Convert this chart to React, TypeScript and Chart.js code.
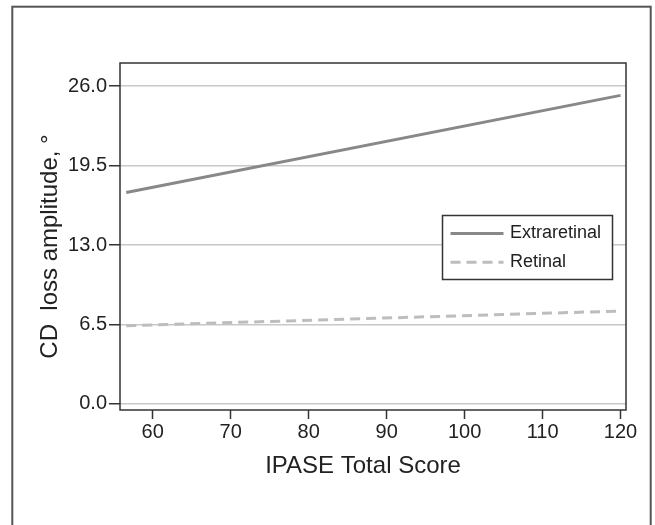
import React, { useEffect, useRef } from "react";
import { Chart, registerables } from "chart.js";

Chart.register(...registerables);

// ---- data ----
const xValues = [56.6, 120];
const extraretinal = [17.3, 25.25];
const retinal = [6.4, 7.6];
const yTickValues = [0, 6.5, 13, 19.5, 26];
const xTickValues = [60, 70, 80, 90, 100, 110, 120];
const seriesLabels = ["Extraretinal", "Retinal"];
const xTitle = "IPASE Total Score";
const yTitle = "CD  loss amplitude, °";

const FONT = "'Liberation Sans', Arial, Helvetica, sans-serif";
const TEXT = "#222222";

const framePlugin = {
  id: "frame",
  afterDraw(chart: any) {
    const { ctx, chartArea: a } = chart;
    ctx.save();
    ctx.strokeStyle = "#333333";
    ctx.lineWidth = 1.5;
    ctx.strokeRect(a.left, a.top, a.right - a.left, a.bottom - a.top);
    ctx.strokeStyle = "#555555";
    ctx.lineWidth = 2;
    ctx.strokeRect(12.3, 6.7, 638.4, 600);
    ctx.restore();
  },
};

const insideLegend = {
  id: "insideLegend",
  afterDraw(chart: any) {
    const { ctx } = chart;
    const box = { x: 442.5, y: 215.5, w: 170, h: 64 };
    ctx.save();
    ctx.fillStyle = "#ffffff";
    ctx.fillRect(box.x, box.y, box.w, box.h);
    ctx.strokeStyle = "#333333";
    ctx.lineWidth = 1.5;
    ctx.strokeRect(box.x, box.y, box.w, box.h);
    chart.data.datasets.forEach((ds: any, i: number) => {
      const y = box.y + 18 + i * 28.7;
      ctx.strokeStyle = ds.borderColor;
      ctx.lineWidth = ds.borderWidth;
      ctx.setLineDash(ds.borderDash || []);
      ctx.beginPath();
      ctx.moveTo(box.x + 8, y);
      ctx.lineTo(box.x + 61, y);
      ctx.stroke();
      ctx.setLineDash([]);
      ctx.fillStyle = TEXT;
      ctx.font = `18px ${FONT}`;
      ctx.textBaseline = "middle";
      ctx.textAlign = "left";
      ctx.fillText(ds.label, box.x + 67.5, y);
    });
    ctx.restore();
  },
};

export default function App() {
  const ref = useRef<HTMLCanvasElement>(null);

  useEffect(() => {
    if (!ref.current) return;
    const chart = new Chart(ref.current, {
      type: "line",
      data: {
        datasets: [
          {
            label: seriesLabels[0],
            data: xValues.map((x, i) => ({ x, y: extraretinal[i] })),
            borderColor: "#888888",
            borderWidth: 3,
            pointRadius: 0,
            fill: false,
          },
          {
            label: seriesLabels[1],
            data: xValues.map((x, i) => ({ x, y: retinal[i] })),
            borderColor: "#bdbdbd",
            borderWidth: 3,
            borderDash: [10, 6],
            pointRadius: 0,
            fill: false,
          },
        ],
      },
      options: {
        responsive: false,
        animation: false,
        devicePixelRatio: 1,
        layout: { padding: { top: 63, right: 29, left: 0, bottom: 0 } },
        plugins: {
          legend: { display: false },
          tooltip: { enabled: false },
        },
        scales: {
          x: {
            type: "linear",
            min: 55.8,
            max: 120.7,
            afterBuildTicks: (s: any) => {
              s.ticks = xTickValues.map((v) => ({ value: v }));
            },
            afterFit: (s: any) => {
              s.height = 115;
            },
            ticks: {
              font: { family: FONT, size: 20 },
              color: TEXT,
              padding: 1,
              callback: (v: any) => String(v),
            },
            grid: {
              drawOnChartArea: false,
              tickColor: "#333333",
              tickWidth: 1.5,
              tickLength: 9,
            },
            border: { display: false },
            title: {
              display: true,
              text: xTitle + "   ",
              font: { family: FONT, size: 24 },
              color: TEXT,
              padding: { top: 0, bottom: 44.6 },
            },
          },
          y: {
            type: "linear",
            min: -0.5,
            max: 27.9,
            afterBuildTicks: (s: any) => {
              s.ticks = yTickValues.map((v) => ({ value: v }));
            },
            afterFit: (s: any) => {
              s.width = 120;
            },
            ticks: {
              font: { family: FONT, size: 20 },
              color: TEXT,
              padding: 2,
              callback: (v: any) => Number(v).toFixed(1),
            },
            grid: {
              color: "#c8c8c8",
              lineWidth: 1.5,
              tickColor: "#333333",
              tickWidth: 1.5,
              tickLength: 11,
            },
            border: { display: false },
            title: {
              display: true,
              text: yTitle + "   ",
              font: { family: FONT, size: 24 },
              color: TEXT,
              padding: { top: 36.4, bottom: 0 },
            },
          },
        },
      } as any,
      plugins: [framePlugin, insideLegend],
    });
    return () => chart.destroy();
  }, []);

  return (
    <div style={{ position: "absolute", left: 0, top: 0, width: 655, height: 525, background: "#ffffff" }}>
      <canvas ref={ref} width={655} height={525} style={{ display: "block" }} />
    </div>
  );
}
